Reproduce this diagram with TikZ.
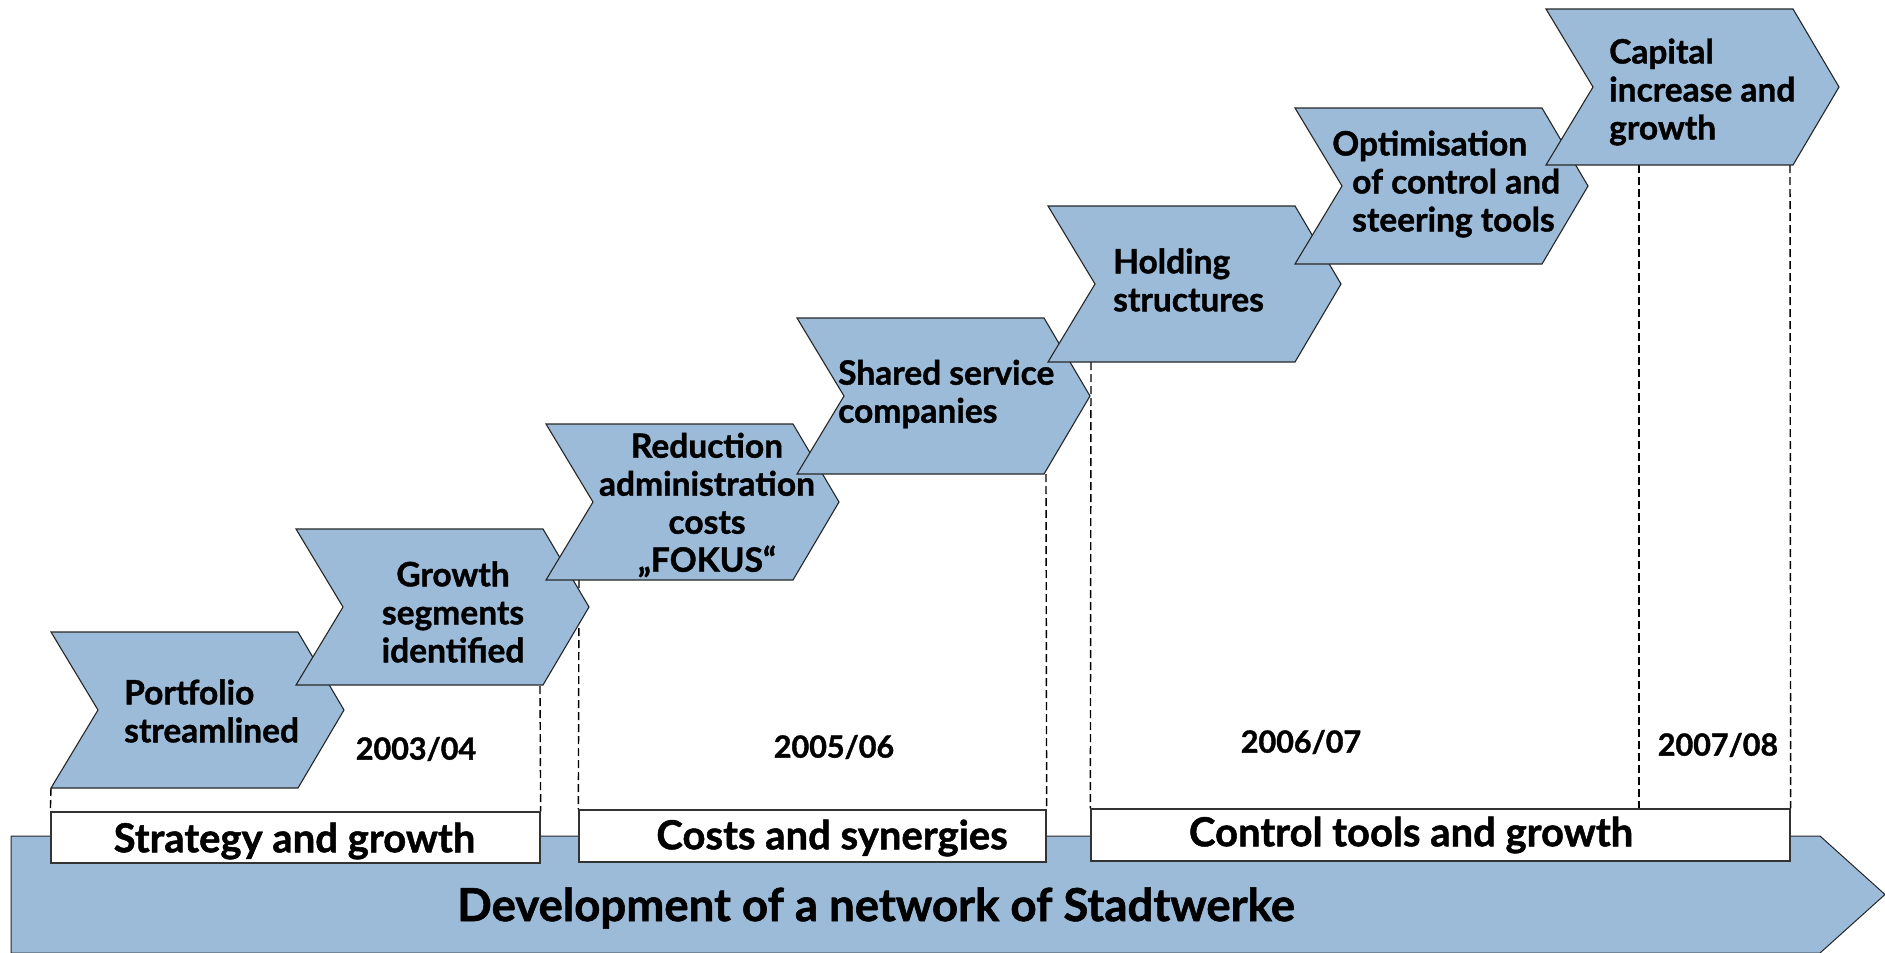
\documentclass[tikz,border=0pt]{standalone}
\usepackage{fontspec}
\setmainfont{Lato}[BoldFeatures={FakeBold=1.2}]
\definecolor{chblue}{RGB}{155,187,216}
\begin{document}
\begin{tikzpicture}[x=1pt,y=-1pt,
  chev/.style={fill=chblue, draw=black!85, line width=1.1pt, line join=miter},
  guide/.style={draw=black, line width=1.4pt, dash pattern=on 8pt off 4pt},
  boxst/.style={draw=black!80, fill=white, line width=1.3pt, inner sep=0pt},
  ctext/.style={font=\fontsize{33.5}{38}\selectfont\bfseries, inner sep=0pt},
  ytext/.style={font=\fontsize{30.5}{36}\selectfont\bfseries, inner sep=0pt},
  btext/.style={font=\fontsize{40}{44}\selectfont\bfseries, inner sep=0pt},
  mtext/.style={font=\fontsize{45.5}{50}\selectfont\bfseries, inner sep=0pt},
]
\useasboundingbox (0,0) rectangle (1885,953);
\newcommand\mychevron[2]{%
  \path[chev] (#1,#2) -- ++(247,0) -- ++(46,78) -- ++(-46,78) -- ++(-247,0) -- ++(47,-78) -- cycle;}

% big arrow
\path[chev, line width=1pt] (11,836) -- (1820,836) -- (1885,894.5) -- (1820,953) -- (11,953) -- cycle;

% boxes (positions)
\node[boxst, minimum width=489pt, minimum height=51pt] (box1) at (295.5,837.5) {};
\node[boxst, minimum width=467pt, minimum height=52pt] (box2) at (812.5,836) {};
\node[boxst, minimum width=699pt, minimum height=52pt] (box3) at (1440.5,835) {};

% guide coordinates
\coordinate (g1) at (51,788);
\coordinate (g2) at (540,686);
\coordinate (g3) at (579,580);
\coordinate (g4) at (1046,474);
\coordinate (g5) at (1091,362);
\coordinate (g6) at (1639,165);
\coordinate (g7) at (1790,165);
\draw[guide] (g1) -- (box1.north west);
\draw[guide] (g2) -- (box1.north east);
\draw[guide] (g3) -- (box2.north west);
\draw[guide] (g4) -- (box2.north east);
\draw[guide] (g5) -- (box3.north west);
\draw[guide] (g6) -- (g6 |- box3.north);
\draw[guide] (g7) -- (box3.north east);

% chevrons
\mychevron{51}{632}
\mychevron{296}{529}
\mychevron{546}{424}
\mychevron{797}{318}
\mychevron{1048}{206}
\mychevron{1295}{108}
\mychevron{1546}{9}

% redraw boxes on top
\node[boxst, minimum width=489pt, minimum height=51pt] at (box1) {};
\node[boxst, minimum width=467pt, minimum height=52pt] at (box2) {};
\node[boxst, minimum width=699pt, minimum height=52pt] at (box3) {};

% chevron texts
\node[ctext, anchor=west, align=left] (t1) at (124,711) {Portfolio\\streamlined};
\node[ctext, align=center] (t2) at (453,612) {Growth\\segments\\identified};
\node[ctext, align=center] (t3) at (707,505) {Reduction\\administration\\costs\\„FOKUS“};
\node[ctext, anchor=west, align=left] (t4) at (838,394) {Shared service\\companies};
\node[ctext, anchor=west, align=left] (t5) at (1113,280) {Holding\\structures};
\node[ctext, anchor=west, align=left] (t6) at (1332,184) {Optimisation\\\hspace*{20pt}of control and\\\hspace*{20pt}steering tools};
\node[ctext, anchor=west, align=left] (t7) at (1609,92) {Capital\\increase and\\growth};

% years
\node[ytext] (y1) at (416,749) {2003/04};
\node[ytext] (y2) at (834,747) {2005/06};
\node[ytext] (y3) at (1301,742) {2006/07};
\node[ytext] (y4) at (1718,745) {2007/08};

% box labels
\node[btext] (l1) at (294.5,841) {Strategy and growth};
\node[btext] (l2) at (832,838) {Costs and synergies};
\node[btext] (l3) at (1411,835) {Control tools and growth};

% main label
\node[mtext] (main) at (876,908) {Development of a network of Stadtwerke};
\end{tikzpicture}
\end{document}
